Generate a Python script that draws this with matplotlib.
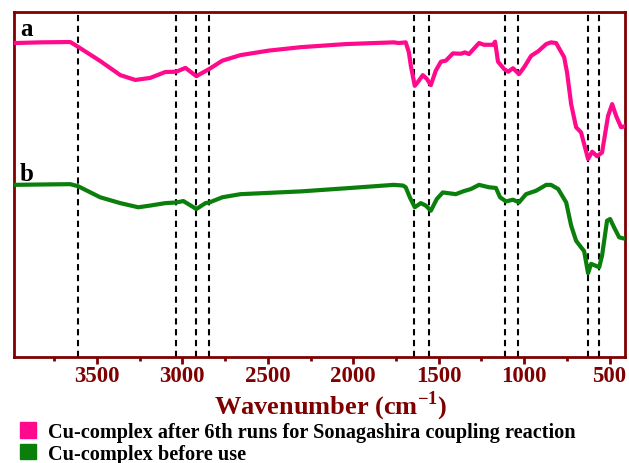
import matplotlib
matplotlib.use('Agg')
import matplotlib.pyplot as plt
from matplotlib.patches import Patch
from matplotlib.ticker import MultipleLocator

# ── Spectra (wavenumber in cm-1, transmittance in arbitrary %) ───────────────
wn_a = [3979, 3832, 3656, 3610, 3481, 3363, 3275, 3188, 3100, 3035, 2982, 2918,
        2842, 2766, 2660, 2496, 2308, 2044, 1763, 1734, 1693, 1675, 1663, 1640,
        1616, 1593, 1569, 1546, 1517, 1487, 1458, 1417, 1370, 1346, 1323, 1264,
        1235, 1182, 1170, 1153, 1118, 1094, 1065, 1030, 1000, 959, 918, 871,
        843, 813, 766, 749, 725, 696, 667, 626, 602, 573, 544, 509, 485, 462,
        433, 403]
tr_a = [91.0, 91.2, 91.3, 89.9, 85.8, 81.7, 80.3, 80.9, 82.6, 82.7, 83.8, 81.4,
        83.5, 85.9, 87.5, 88.8, 89.8, 90.7, 91.2, 91.0, 91.2, 88.4, 84.4, 78.6,
        80.1, 81.7, 80.6, 78.8, 83.0, 85.6, 85.9, 88.0, 87.9, 88.3, 87.8, 91.0,
        90.5, 90.5, 91.4, 85.6, 83.5, 82.7, 83.7, 82.0, 84.0, 87.3, 88.6, 90.7,
        91.2, 91.0, 86.9, 82.5, 73.3, 66.6, 65.1, 57.4, 59.5, 58.2, 59.3, 69.9,
        73.3, 69.9, 66.6, 67.0]

wn_b = [3979, 3832, 3656, 3610, 3481, 3363, 3258, 3188, 3100, 3035, 2994, 2918,
        2865, 2842, 2766, 2660, 2308, 2016, 1763, 1709, 1693, 1669, 1640, 1605,
        1576, 1546, 1511, 1476, 1400, 1358, 1311, 1264, 1206, 1165, 1141, 1106,
        1065, 1030, 989, 930, 871, 843, 801, 754, 725, 696, 667, 649, 626, 608,
        579, 561, 544, 515, 497, 474, 444, 421, 398]
tr_b = [49.9, 50.0, 50.1, 49.5, 46.3, 44.6, 43.4, 43.9, 44.6, 44.8, 45.2, 42.9,
        44.6, 44.8, 46.3, 47.2, 48.0, 49.0, 49.9, 49.7, 49.2, 46.3, 43.4, 44.6,
        43.9, 42.4, 45.8, 47.7, 47.2, 48.0, 48.7, 49.9, 49.2, 49.0, 46.3, 45.1,
        45.6, 44.8, 47.2, 48.2, 49.9, 49.9, 48.7, 44.8, 38.1, 33.7, 31.8, 30.7,
        24.3, 27.0, 26.4, 26.0, 29.4, 39.5, 40.0, 37.6, 34.7, 34.4, 34.2]

# band positions marked with dashed guides
bands = [3611, 3037, 2918, 2842, 1644, 1555, 1111, 1035, 626, 563]

labels = ['Cu-complex after 6th runs for Sonagashira coupling reaction',
          'Cu-complex before use']

PINK  = '#ff0a8c'
GREEN = '#0b7f0b'
MAROON = '#7f0000'
SERIF = 'Liberation Serif'

plt.rcParams['mathtext.fontset'] = 'custom'
plt.rcParams['mathtext.rm'] = 'Liberation Serif:bold'
plt.rcParams['mathtext.bf'] = 'Liberation Serif:bold'

fig = plt.figure(figsize=(6.29, 4.64), dpi=100)
ax = fig.add_axes([0.0223, 0.2284, 0.9713, 0.7436])

for b in bands:
    ax.axvline(b, color='black', lw=1.5, dashes=(3, 2.2), zorder=1)

ax.plot(wn_a, tr_a, color=PINK, lw=3, zorder=3, solid_joinstyle='round')
ax.plot(wn_b, tr_b, color=GREEN, lw=3, zorder=3, solid_joinstyle='round')

ax.text(0.01, 0.985, 'a', transform=ax.transAxes, fontsize=18, fontweight='bold',
        family=SERIF, va='top', ha='left')
ax.text(0.01, 0.565, 'b', transform=ax.transAxes, fontsize=18, fontweight='bold',
        family=SERIF, va='top', ha='left')

ax.set_xlim(3985, 410)
ax.set_ylim(0, 100)
ax.set_yticks([])
ax.xaxis.set_major_locator(MultipleLocator(500))
ax.xaxis.set_minor_locator(MultipleLocator(250))
ax.tick_params(axis='x', which='major', direction='out', length=5, width=2,
               color=MAROON, labelcolor=MAROON, pad=1)
ax.tick_params(axis='x', which='minor', direction='out', length=3, width=2,
               color=MAROON)
for lab in ax.get_xticklabels():
    lab.set_fontfamily(SERIF)
    lab.set_fontweight('bold')
    lab.set_fontsize(16.5)
for s in ax.spines.values():
    s.set_color(MAROON)
    s.set_linewidth(2)

fig.text(0.525, 0.124, r'Wavenumber (cm$^{-1}$)', fontsize=19, fontweight='bold',
         family=SERIF, color=MAROON, ha='center', va='center')

handles = [Patch(color=PINK, label=labels[0]), Patch(color=GREEN, label=labels[1])]
fig.legend(handles=handles, loc='upper left', bbox_to_anchor=(0.032, 0.088),
           frameon=False, handlelength=0.8, handleheight=0.8, handletextpad=0.55,
           labelspacing=0.08, borderpad=0, borderaxespad=0,
           prop={'family': SERIF, 'weight': 'bold', 'size': 14.6})

fig.savefig('out.png', dpi=100)
